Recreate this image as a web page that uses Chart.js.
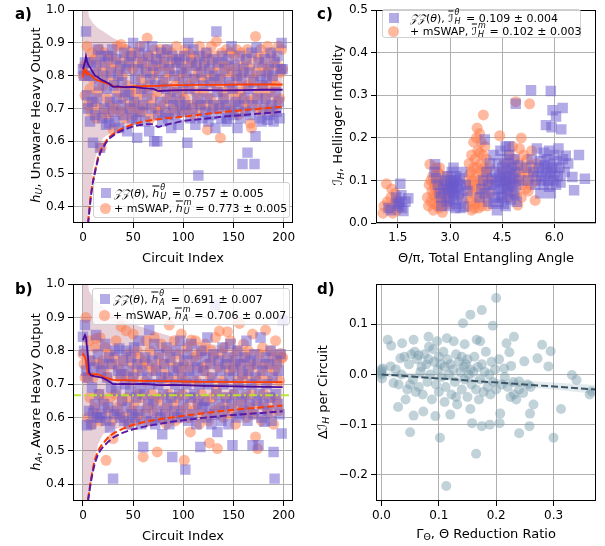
<!DOCTYPE html>
<html>
<head>
<meta charset="utf-8">
<script src="https://cdn.jsdelivr.net/npm/chart.js@4.4.0/dist/chart.umd.min.js"></script>
<style>
body{margin:0;width:605px;height:546px;position:relative;background:#fff;overflow:hidden;font-family:"DejaVu Sans",sans-serif;color:#000}
canvas{position:absolute}
.t{position:absolute;white-space:nowrap;font-size:13px;line-height:1}
.xt{transform:translate(-50%,-50%)}
.yt{transform:translate(-50%,-50%) rotate(-90deg)}
.pl{position:absolute;font-weight:bold;font-size:15px;line-height:1}
.leg{position:absolute;border:1px solid #d0d0d0;border-radius:3px;background:rgba(255,255,255,0.8);font-size:11px;box-sizing:border-box}
.mk{position:absolute;width:10px;height:10px}
.sq{background:rgba(106,90,205,0.5)}
.ci{background:rgba(255,127,80,0.55);border-radius:50%;width:11px;height:11px}
.tx{position:absolute;transform:translateY(-50%);white-space:nowrap;line-height:1}
.ss{position:relative;display:inline-block;width:9px;height:0}
.ss .sp,.ss .sb{position:absolute;left:1px;font-size:8px;line-height:1;font-style:italic}
.ss .sp{top:-13px}
.ss .sb{top:-4px}
.ov{text-decoration:overline}
sub{font-size:0.72em;vertical-align:-0.3em;line-height:0}
</style>
</head>
<body>
<canvas id="ca" width="300" height="270" style="left:0;top:0"></canvas>
<canvas id="cc" width="305" height="270" style="left:300px;top:0"></canvas>
<canvas id="cb" width="300" height="276" style="left:0;top:270px"></canvas>
<canvas id="cd" width="305" height="276" style="left:300px;top:270px"></canvas>

<div class="pl" style="left:15px;top:7px">a)</div>
<div class="pl" style="left:317px;top:7px">c)</div>
<div class="pl" style="left:15px;top:282px">b)</div>
<div class="pl" style="left:317px;top:282px">d)</div>

<div class="t xt" style="left:183px;top:257px">Circuit Index</div>
<div class="t xt" style="left:183px;top:535px">Circuit Index</div>
<div class="t xt" style="left:486px;top:257px">Θ/π, Total Entangling Angle</div>
<div class="t xt" style="left:486px;top:533px">Γ<sub>Θ</sub>, Θ Reduction Ratio</div>
<div class="t yt" style="left:35px;top:115px"><i>h<sub>U</sub></i>, Unaware Heavy Output</div>
<div class="t yt" style="left:35px;top:392px"><i>h<sub>A</sub></i>, Aware Heavy Output</div>
<div class="t yt" style="left:337px;top:115px"><i>ℐ<sub>H</sub></i>, Hellinger Infidelity</div>
<div class="t yt" style="left:322px;top:392px">Δ<i>ℐ<sub>H</sub></i> per Circuit</div>

<div class="leg" style="left:93px;top:182px;width:197px;height:36px">
  <div class="mk sq" style="left:7px;top:5px"></div>
  <div class="tx" style="left:20px;top:10px"><i>𝒵𝒵</i>(<i>θ</i>), <i class="ov">h</i><span class="ss"><span class="sp">θ</span><span class="sb">U</span></span> = 0.757 ± 0.005</div>
  <div class="mk ci" style="left:6px;top:20px"></div>
  <div class="tx" style="left:20px;top:25px">+ mSWAP, <i class="ov">h</i><span class="ss"><span class="sp">m</span><span class="sb">U</span></span> = 0.773 ± 0.005</div>
</div>
<div class="leg" style="left:92px;top:288px;width:198px;height:37px">
  <div class="mk sq" style="left:7px;top:5px"></div>
  <div class="tx" style="left:20px;top:10px"><i>𝒵𝒵</i>(<i>θ</i>), <i class="ov">h</i><span class="ss"><span class="sp">θ</span><span class="sb">A</span></span> = 0.691 ± 0.007</div>
  <div class="mk ci" style="left:6px;top:21px"></div>
  <div class="tx" style="left:20px;top:26px">+ mSWAP, <i class="ov">h</i><span class="ss"><span class="sp">m</span><span class="sb">A</span></span> = 0.706 ± 0.007</div>
</div>
<div class="leg" style="left:382px;top:9px;width:199px;height:29px">
  <div class="mk sq" style="left:6px;top:3px"></div>
  <div class="tx" style="left:27px;top:8px"><i>𝒵𝒵</i>(<i>θ</i>), <i class="ov">ℐ</i><span class="ss"><span class="sp">θ</span><span class="sb">H</span></span> = 0.109 ± 0.004</div>
  <div class="mk ci" style="left:5px;top:16px"></div>
  <div class="tx" style="left:27px;top:21px">+ mSWAP, <i class="ov">ℐ</i><span class="ss"><span class="sp">m</span><span class="sb">H</span></span> = 0.102 ± 0.003</div>
</div>

<script>
// ---- panel a: unaware heavy output per circuit ----
const aZZ = [
  0.82,0.80,0.84,0.935,0.74,0.70,0.80,0.66,0.84,0.72,0.595,0.80,0.68,0.83,0.73,0.88,0.77,0.58,0.86,0.67,
  0.80,0.70,0.84,0.65,0.76,0.86,0.655,0.72,0.81,0.88,0.69,0.77,0.66,0.85,0.73,0.80,0.64,0.83,0.71,0.78,
  0.68,0.87,0.75,0.82,0.63,0.74,0.84,0.70,0.86,0.67,0.90,0.72,0.79,0.665,0.61,0.82,0.87,0.69,0.76,0.84,
  0.71,0.89,0.66,0.81,0.74,0.86,0.63,0.79,0.70,0.89,0.83,0.60,0.77,0.85,0.60,0.68,0.81,0.72,0.87,0.66,
  0.78,0.84,0.69,0.76,0.88,0.67,0.82,0.73,0.64,0.86,0.71,0.80,0.68,0.84,0.75,0.65,0.85,0.72,0.82,0.69,
  0.78,0.86,0.71,0.81,0.595,0.90,0.76,0.67,0.84,0.70,0.88,0.79,0.65,0.83,0.73,0.495,0.86,0.71,0.81,0.67,
  0.77,0.84,0.69,0.87,0.73,0.66,0.82,0.78,0.68,0.85,0.71,0.80,0.64,0.935,0.75,0.84,0.70,0.79,0.67,0.86,
  0.73,0.82,0.71,0.66,0.668,0.85,0.78,0.69,0.89,0.76,0.68,0.83,0.72,0.80,0.64,0.71,0.86,0.67,0.79,0.53,
  0.82,0.73,0.69,0.85,0.565,0.76,0.81,0.68,0.87,0.71,0.78,0.53,0.615,0.885,0.73,0.84,0.67,0.80,0.66,0.77,
  0.70,0.85,0.73,0.79,0.665,0.82,0.68,0.87,0.71,0.80,0.66,0.84,0.75,0.69,0.86,0.72,0.67,0.82,0.90,0.82
];
const aMS = [
  0.80,0.83,0.74,0.80,0.89,0.71,0.84,0.76,0.69,0.87,0.79,0.72,0.85,0.67,0.81,0.75,0.88,0.70,0.58,0.83,
  0.77,0.87,0.68,0.80,0.73,0.85,0.685,0.82,0.71,0.86,0.635,0.78,0.84,0.70,0.89,0.75,0.82,0.69,0.895,0.80,
  0.73,0.85,0.67,0.88,0.77,0.70,0.83,0.75,0.86,0.71,0.82,0.68,0.87,0.76,0.73,0.84,0.70,0.89,0.79,0.69,
  0.85,0.75,0.82,0.71,0.915,0.77,0.86,0.67,0.83,0.73,0.80,0.88,0.70,0.82,0.75,0.85,0.69,0.88,0.77,0.83,
  0.71,0.86,0.79,0.88,0.73,0.83,0.68,0.81,0.87,0.75,0.70,0.85,0.77,0.89,0.72,0.84,0.79,0.69,0.86,0.75,
  0.81,0.73,0.88,0.70,0.83,0.77,0.87,0.71,0.85,0.79,0.68,0.86,0.75,0.83,0.72,0.81,0.89,0.70,0.79,0.86,
  0.75,0.83,0.71,0.87,0.635,0.79,0.85,0.73,0.89,0.81,0.70,0.86,0.77,0.905,0.83,0.71,0.79,0.61,0.87,0.75,
  0.84,0.73,0.81,0.88,0.70,0.83,0.77,0.87,0.69,0.81,0.75,0.86,0.72,0.88,0.79,0.68,0.83,0.75,0.87,0.73,
  0.81,0.70,0.85,0.77,0.88,0.72,0.83,0.655,0.64,0.79,0.86,0.73,0.92,0.81,0.70,0.85,0.75,0.88,0.69,0.83,
  0.77,0.86,0.73,0.81,0.89,0.70,0.83,0.75,0.87,0.79,0.69,0.85,0.77,0.72,0.83,0.89,0.73,0.81,0.88,0.82
];
// running means, read at these circuit indices
const meanX   = [0,1,2,3,4,5,6,8,10,12,15,18,20,25,30,35,40,50,60,70,75,80,90,100,120,140,160,180,199];
const aMeanZZ = [0.82,0.83,0.84,0.86,0.845,0.835,0.83,0.82,0.81,0.80,0.795,0.788,0.785,0.778,0.766,0.767,0.765,0.766,0.762,0.76,0.753,0.754,0.755,0.756,0.756,0.755,0.756,0.757,0.757];
const aMeanMS = [0.795,0.825,0.81,0.815,0.805,0.81,0.805,0.80,0.795,0.79,0.785,0.783,0.78,0.775,0.768,0.765,0.765,0.767,0.768,0.769,0.769,0.77,0.771,0.771,0.772,0.772,0.773,0.773,0.773];
// lower bounds (dashed)
const boundX   = [5,6,7,8,10,12,15,18,20,25,30,35,40,50,60,70,75,80,90,100,120,140,160,180,199];
const aBoundMS = [0.35,0.38,0.41,0.44,0.48,0.51,0.55,0.575,0.585,0.61,0.622,0.632,0.64,0.652,0.66,0.665,0.667,0.669,0.672,0.675,0.682,0.689,0.695,0.70,0.705];
const aBoundZZ = [0.345,0.375,0.405,0.435,0.475,0.505,0.545,0.57,0.58,0.605,0.617,0.627,0.634,0.645,0.651,0.652,0.643,0.648,0.655,0.662,0.668,0.675,0.68,0.685,0.69];
// shaded band
const bandX  = [0,3,6,10,15,20,30,40,50,75,100,150,199];
const aBandHi = [1.1,1.05,0.98,0.96,0.945,0.936,0.915,0.90,0.885,0.865,0.855,0.84,0.83];
const aBandLo = [0.3,0.3,0.4,0.52,0.58,0.61,0.63,0.645,0.655,0.67,0.68,0.69,0.70];

// ---- panel b: aware heavy output per circuit ----
const bZZ = [
  0.842,0.80,0.877,0.74,0.577,0.72,0.62,0.77,0.58,0.69,0.612,0.75,0.64,0.847,0.60,0.79,0.67,0.60,0.74,0.61,
  0.76,0.64,0.82,0.59,0.72,0.63,0.78,0.57,0.69,0.76,0.417,0.61,0.80,0.68,0.62,0.74,0.807,0.60,0.73,0.65,
  0.77,0.59,0.70,0.80,0.63,0.74,0.58,0.68,0.78,0.61,0.72,0.81,0.60,0.66,0.76,0.62,0.83,0.69,0.58,0.74,
  0.512,0.67,0.78,0.61,0.72,0.64,0.862,0.70,0.59,0.77,0.65,0.82,0.58,0.74,0.62,0.70,0.79,0.60,0.72,0.55,
  0.67,0.76,0.61,0.81,0.64,0.72,0.58,0.78,0.66,0.482,0.74,0.62,0.70,0.80,0.60,0.75,0.67,0.83,0.61,0.72,
  0.64,0.77,0.444,0.70,0.79,0.59,0.74,0.66,0.82,0.61,0.72,0.67,0.77,0.58,0.75,0.64,0.70,0.512,0.80,0.63,
  0.74,0.65,0.78,0.60,0.84,0.70,0.63,0.76,0.58,0.72,0.79,0.61,0.937,0.67,0.557,0.77,0.64,0.74,0.59,0.81,
  0.70,0.62,0.76,0.66,0.78,0.58,0.72,0.82,0.64,0.517,0.74,0.67,0.77,0.60,0.80,0.70,0.61,0.76,0.65,0.73,
  0.62,0.78,0.67,0.83,0.59,0.74,0.64,0.77,0.70,0.517,0.61,0.79,0.72,0.65,0.76,0.517,0.67,0.84,0.60,0.74,
  0.64,0.587,0.78,0.70,0.62,0.76,0.66,0.80,0.59,0.72,0.497,0.417,0.67,0.77,0.64,0.74,0.61,0.79,0.552,0.892
];
const bMS = [
  0.79,0.76,0.72,0.90,0.72,0.60,0.83,0.66,0.77,0.58,0.72,0.63,0.81,0.837,0.61,0.76,0.67,0.84,0.59,0.77,
  0.65,0.74,0.81,0.472,0.72,0.62,0.79,0.66,0.76,0.59,0.537,0.78,0.67,0.83,0.63,0.75,0.61,0.72,0.872,0.65,
  0.77,0.60,0.73,0.86,0.66,0.58,0.79,0.71,0.62,0.76,0.85,0.64,0.73,0.59,0.80,0.67,0.78,0.61,0.75,0.66,
  0.482,0.77,0.71,0.83,0.63,0.76,0.59,0.80,0.67,0.74,0.62,0.84,0.65,0.75,0.497,0.78,0.66,0.60,0.82,0.71,
  0.76,0.63,0.73,0.58,0.80,0.67,0.877,0.61,0.77,0.71,0.64,0.83,0.59,0.75,0.66,0.79,0.62,0.73,0.85,0.67,
  0.76,0.472,0.71,0.63,0.81,0.60,0.75,0.557,0.832,0.66,0.78,0.62,0.83,0.71,0.64,0.79,0.58,0.75,0.67,0.80,
  0.61,0.74,0.82,0.65,0.76,0.59,0.524,0.72,0.80,0.66,0.78,0.62,0.84,0.68,0.507,0.75,0.859,0.63,0.79,0.71,
  0.60,0.81,0.66,0.76,0.857,0.63,0.74,0.83,0.61,0.78,0.67,0.75,0.58,0.80,0.71,0.64,0.882,0.76,0.62,0.73,
  0.82,0.66,0.78,0.60,0.72,0.80,0.63,0.75,0.67,0.85,0.61,0.76,0.542,0.71,0.507,0.64,0.79,0.73,0.59,0.81,
  0.67,0.76,0.862,0.63,0.75,0.71,0.61,0.80,0.66,0.78,0.58,0.74,0.83,0.65,0.76,0.62,0.71,0.792,0.78,0.78
];
const bMeanZZ = [0.832,0.84,0.847,0.84,0.81,0.78,0.735,0.726,0.725,0.723,0.722,0.72,0.718,0.71,0.70,0.70,0.701,0.70,0.701,0.699,0.697,0.697,0.698,0.697,0.695,0.694,0.693,0.692,0.691];
const bMeanMS = [0.793,0.785,0.78,0.77,0.745,0.73,0.728,0.73,0.729,0.73,0.729,0.726,0.722,0.717,0.713,0.712,0.712,0.711,0.71,0.71,0.709,0.709,0.709,0.708,0.707,0.707,0.706,0.706,0.706];
const bBoundX  = [5,6,7,8,10,12,15,18,20,25,30,35,40,50,60,70,80,90,100,120,140,160,180,199];
const bBoundZZ = [0.35,0.37,0.39,0.41,0.44,0.465,0.49,0.505,0.512,0.527,0.54,0.548,0.555,0.565,0.572,0.578,0.583,0.588,0.592,0.599,0.605,0.61,0.614,0.619];
const bBoundMS = [0.355,0.375,0.395,0.415,0.45,0.475,0.50,0.515,0.522,0.54,0.552,0.56,0.567,0.578,0.586,0.592,0.597,0.601,0.605,0.613,0.62,0.626,0.631,0.636];
const bBandHi = [1.1,1.05,0.98,0.96,0.945,0.932,0.91,0.895,0.88,0.855,0.832,0.81,0.797];
const bBandLo = [0.3,0.3,0.35,0.45,0.52,0.55,0.565,0.57,0.575,0.58,0.583,0.598,0.613];
const thresholdX = [-10, 209];
const thresholdY = [0.667, 0.667];

// ---- panel c: [theta/pi, Hellinger infidelity] ----
const cZZ = [
  [1.23,0.035],[1.3,0.03],[1.57,0.092],[1.5,0.045],[1.55,0.05],[1.62,0.035],[1.66,0.028],[1.72,0.05],[1.8,0.058],[1.45,0.06],[1.6,0.065],[1.53,0.04],
  [2.55,0.12],[2.57,0.138],[2.6,0.105],[2.65,0.09],[2.7,0.07],[2.75,0.06],[2.8,0.08],[2.85,0.1],[2.9,0.085],[2.92,0.11],[2.95,0.075],[2.98,0.06],
  [3.0,0.09],[3.02,0.1],[3.05,0.08],[3.05,0.12],[3.08,0.07],[3.1,0.095],[3.1,0.055],[3.12,0.085],[3.15,0.1],[3.15,0.065],[3.18,0.11],[3.2,0.08],
  [3.2,0.045],[3.22,0.095],[3.25,0.07],[3.28,0.105],[3.3,0.085],[3.3,0.035],[3.35,0.06],[3.4,0.038],[3.45,0.09],[3.5,0.075],[3.0,0.04],[2.9,0.05],
  [3.1,0.13],[3.35,0.12],[2.75,0.04],[3.15,0.035],
  [3.85,0.06],[3.9,0.08],[3.95,0.1],[4.0,0.196],[4.0,0.07],[4.05,0.12],[4.1,0.09],[4.1,0.05],[4.15,0.14],[4.2,0.105],[4.2,0.075],[4.25,0.16],
  [4.28,0.09],[4.3,0.12],[4.3,0.06],[4.35,0.03],[4.35,0.1],[4.38,0.14],[4.4,0.08],[4.42,0.115],[4.45,0.17],[4.45,0.095],[4.48,0.065],[4.5,0.13],
  [4.5,0.105],[4.52,0.08],[4.55,0.15],[4.55,0.045],[4.58,0.11],[4.6,0.18],[4.6,0.09],[4.62,0.125],[4.65,0.07],[4.65,0.1],[4.68,0.14],[4.7,0.085],
  [4.7,0.16],[4.72,0.115],[4.75,0.055],[4.75,0.095],[4.78,0.13],[4.8,0.075],[4.82,0.105],[4.85,0.15],[4.85,0.065],[4.88,0.12],[4.9,0.09],[4.92,0.05],
  [4.95,0.135],[4.98,0.1],[4.89,0.28],[4.4,0.05],[4.6,0.04],[4.25,0.045],[4.7,0.18],[4.5,0.06],
  [5.2,0.13],[5.25,0.1],[5.33,0.312],[5.35,0.15],[5.4,0.12],[5.45,0.09],[5.5,0.175],[5.5,0.11],[5.55,0.13],[5.6,0.07],[5.6,0.145],[5.62,0.1],
  [5.65,0.12],[5.7,0.165],[5.7,0.09],[5.72,0.135],[5.75,0.11],[5.76,0.23],[5.78,0.15],[5.8,0.125],[5.82,0.1],[5.85,0.17],[5.85,0.085],[5.88,0.14],
  [5.9,0.31],[5.9,0.07],[5.9,0.115],[5.92,0.225],[5.95,0.265],[5.95,0.13],[5.98,0.1],[6.0,0.16],[6.02,0.12],[6.05,0.25],[6.05,0.09],[6.08,0.145],
  [6.1,0.11],[6.12,0.175],[6.15,0.13],[6.18,0.095],[6.2,0.22],[6.24,0.27],[6.25,0.15],[6.33,0.158],[6.52,0.108],[6.57,0.077],[6.71,0.16],[6.88,0.104],
  [6.3,0.12],[6.4,0.14]
];
const cMS = [
  [1.07,0.023],[1.1,0.04],[1.17,0.092],[1.2,0.05],[1.25,0.035],[1.3,0.06],[1.35,0.023],[1.38,0.045],[1.42,0.07],[1.45,0.055],[1.48,0.03],[1.32,0.08],
  [2.35,0.06],[2.4,0.09],[2.42,0.138],[2.45,0.05],[2.48,0.075],[2.5,0.11],[2.52,0.065],[2.55,0.095],[2.55,0.045],[2.58,0.08],[2.6,0.13],[2.6,0.06],
  [2.62,0.1],[2.65,0.07],[2.65,0.04],[2.68,0.09],[2.7,0.115],[2.7,0.055],[2.72,0.08],[2.75,0.065],[2.75,0.1],[2.78,0.025],[2.8,0.085],[2.82,0.05],
  [2.85,0.07],[2.88,0.095],[2.9,0.06],[2.92,0.08],[2.95,0.045],[3.0,0.07],[3.05,0.09],[2.52,0.03],[2.68,0.035],[2.6,0.12],[2.45,0.1],[2.38,0.04],
  [2.9,0.11],[2.7,0.13],[2.56,0.09],[2.8,0.04],
  [3.45,0.06],[3.5,0.1],[3.52,0.04],[3.55,0.14],[3.58,0.08],[3.6,0.12],[3.6,0.05],[3.62,0.16],[3.65,0.1],[3.65,0.07],[3.68,0.13],[3.7,0.09],
  [3.7,0.035],[3.72,0.15],[3.75,0.11],[3.75,0.06],[3.78,0.223],[3.78,0.13],[3.8,0.08],[3.8,0.17],[3.82,0.1],[3.85,0.21],[3.85,0.05],[3.88,0.14],
  [3.88,0.09],[3.9,0.12],[3.9,0.19],[3.92,0.07],[3.95,0.16],[3.95,0.1],[3.96,0.254],[3.98,0.13],[4.0,0.085],[4.0,0.18],[4.02,0.06],[4.05,0.11],
  [4.05,0.15],[4.08,0.04],[4.1,0.095],[4.12,0.13],[4.15,0.07],[4.18,0.1],[3.55,0.09],[3.62,0.03],[3.68,0.19],[3.72,0.045],[3.85,0.165],[3.92,0.04],
  [4.0,0.12],[3.58,0.115],[3.76,0.2],[3.82,0.035],
  [4.43,0.205],[4.5,0.12],[4.55,0.1],[4.6,0.14],[4.65,0.08],[4.7,0.16],[4.75,0.11],[4.8,0.13],[4.82,0.09],[4.85,0.15],[4.89,0.285],[4.9,0.12],
  [4.92,0.07],[4.95,0.042],[4.95,0.1],[5.0,0.175],[5.0,0.14],[5.02,0.11],[5.05,0.2],[5.08,0.09],[5.1,0.13],[5.12,0.16],[5.15,0.12],[5.18,0.08],
  [5.2,0.1],[5.22,0.15],[5.25,0.115],[5.29,0.28],[5.3,0.135],[5.32,0.09],[5.35,0.17],[5.4,0.12],[5.45,0.053],[5.48,0.1],[5.5,0.14],[4.7,0.06],
  [4.6,0.1],[5.05,0.06],[4.8,0.18],[5.25,0.075]
];

// ---- panel d: [reduction ratio, change in infidelity] ----
const dPts = [
  [0.0,0.009],[0.0,0.0],[0.002,0.012],[0.001,-0.008],[0.0,0.005],[0.011,0.069],[0.017,0.057],[0.016,0.016],[0.021,-0.017],[0.029,-0.065],
  [0.033,0.032],[0.036,0.062],[0.042,-0.05],[0.05,-0.115],[0.056,0.069],[0.056,-0.082],[0.073,-0.074],[0.082,0.075],[0.094,-0.083],[0.102,-0.126],
  [0.097,0.066],[0.114,0.072],[0.126,0.066],[0.113,-0.222],[0.12,-0.08],[0.142,0.102],[0.155,0.119],[0.175,0.128],[0.2,0.152],[0.194,0.097],
  [0.166,0.069],[0.172,0.066],[0.165,-0.158],[0.155,-0.069],[0.158,-0.097],[0.175,-0.103],[0.189,-0.1],[0.206,-0.097],[0.207,-0.078],[0.218,0.062],
  [0.231,0.075],[0.223,0.044],[0.226,0.017],[0.214,0.012],[0.24,-0.117],[0.249,0.026],[0.24,-0.014],[0.247,-0.037],[0.231,-0.04],[0.258,-0.103],
  [0.259,-0.078],[0.265,-0.06],[0.272,0.032],[0.28,0.059],[0.291,0.016],[0.295,0.046],[0.3,-0.126],[0.313,-0.069],[0.332,-0.001],[0.34,-0.011],
  [0.363,-0.04],[0.366,-0.034],
  [0.025,0.01],[0.03,-0.02],[0.035,0.0],[0.04,0.035],[0.045,-0.03],[0.048,0.02],[0.052,0.04],[0.055,-0.01],[0.058,0.045],[0.06,-0.035],
  [0.062,0.03],[0.065,-0.025],[0.068,0.005],[0.07,0.015],[0.072,-0.04],[0.075,0.04],[0.078,0.02],[0.08,-0.015],[0.082,0.03],[0.085,0.0],
  [0.088,-0.05],[0.09,0.05],[0.092,0.025],[0.095,-0.02],[0.098,0.01],[0.1,0.035],[0.1,-0.035],[0.103,0.02],[0.105,-0.005],[0.108,0.045],
  [0.11,0.015],[0.112,-0.025],[0.115,0.03],[0.118,0.0],[0.12,0.02],[0.122,-0.04],[0.125,0.01],[0.128,-0.015],[0.13,0.04],[0.132,-0.06],
  [0.135,0.025],[0.138,0.005],[0.14,0.035],[0.14,-0.03],[0.143,0.015],[0.145,-0.01],[0.147,0.02],[0.15,-0.045],[0.15,0.03],[0.152,0.0],
  [0.155,0.01],[0.157,-0.02],[0.16,0.005],[0.162,0.035],[0.165,-0.03],[0.168,0.015],[0.17,-0.05],[0.172,-0.01],[0.175,0.02],[0.178,-0.035],
  [0.18,0.005],[0.182,0.045],[0.185,-0.025],[0.188,0.0],[0.19,-0.04],[0.192,0.025],[0.195,-0.015],[0.198,0.01],[0.2,-0.03],[0.205,0.03],
  [0.21,-0.02],[0.215,-0.005],[0.22,-0.025],[0.225,-0.045],[0.23,-0.015],[0.235,-0.05],[0.24,-0.03],[0.255,-0.02],[0.26,-0.025],[0.145,0.06],
  [0.05,-0.02],[0.065,0.038],[0.083,0.055],[0.11,-0.055],[0.13,-0.045]
];
const dFitX  = [0.0, 0.374];
const dFitY  = [0.0, -0.03];
const dCiX   = [0.0, 0.1, 0.2, 0.3, 0.374];
const dCiHi  = [0.005, 0.002, -0.009, -0.016, -0.021];
const dCiLo  = [-0.005, -0.010, -0.021, -0.030, -0.039];

// tick labels
const idxTicks = [0, 50, 100, 150, 200];
const hTicks = [0.4, 0.5, 0.6, 0.7, 0.8, 0.9, 1.0];
const cXTicks = [1.5, 3.0, 4.5, 6.0];
const cYTicks = [0.0, 0.1, 0.2, 0.3, 0.4, 0.5];
const dXTicks = [0.0, 0.1, 0.2, 0.3];
const dYTicks = [-0.2, -0.1, 0.0, 0.1];

const PURPLE = 'rgba(106,90,205,0.5)';
const CORAL = 'rgba(255,127,80,0.55)';
const SQ_R = 7.4;   // square side ~10.5px
const CI_R = 5.5;   // circle diameter ~11px

function xy(xs, ys) { return xs.map((x, i) => ({x: x, y: ys[i]})); }
function pairs(a) { return a.map(p => ({x: p[0], y: p[1]})); }
function one(v) { return v.toFixed(1).replace('-', '\u2212'); }

// matplotlib style box around the axes
const frame = {
  id: 'frame',
  afterDraw(chart) {
    const a = chart.chartArea, ctx = chart.ctx;
    ctx.save();
    ctx.strokeStyle = '#000';
    ctx.lineWidth = 1;
    ctx.strokeRect(Math.round(a.left) + 0.5, Math.round(a.top) + 0.5,
                   Math.round(a.right - a.left) - 1, Math.round(a.bottom - a.top) - 1);
    ctx.restore();
  }
};

function axis(min, max, ticks, size, fmt, isX) {
  return {
    type: 'linear', min: min, max: max,
    afterBuildTicks: s => { s.ticks = ticks.map(v => ({value: v})); },
    afterFit: s => { if (isX) s.height = size; else s.width = size; },
    grid: {color: '#b0b0b0', lineWidth: 1, drawTicks: true, tickLength: 5, tickColor: '#000', tickWidth: 1},
    border: {display: false},
    ticks: {color: '#000', font: {family: 'DejaVu Sans', size: 12}, padding: 3,
            maxRotation: 0, autoSkip: false, callback: v => fmt(v)}
  };
}

function scatter(data, square, color, r) {
  return {type: 'scatter', data: data, showLine: false, pointStyle: square ? 'rect' : 'circle',
          pointRadius: r, pointHoverRadius: r, pointBackgroundColor: color, pointBorderWidth: 0,
          pointBorderColor: 'rgba(0,0,0,0)', order: 2};
}
function line(data, color, w, dash) {
  return {type: 'line', data: data, showLine: true, borderColor: color, borderWidth: w,
          borderDash: dash || [], pointRadius: 0, fill: false, tension: 0, order: 0};
}
function bandPair(hi, lo, color) {
  return [
    {type: 'line', data: hi, showLine: true, borderColor: 'rgba(0,0,0,0)', borderWidth: 1, pointRadius: 0,
     tension: 0, fill: '+1', backgroundColor: color, order: 3},
    {type: 'line', data: lo, showLine: true, borderColor: 'rgba(0,0,0,0)', borderWidth: 1, pointRadius: 0,
     tension: 0, fill: false, order: 3}
  ];
}

function make(id, datasets, xs, ys, pad) {
  new Chart(document.getElementById(id), {
    type: 'scatter',
    data: {datasets: datasets},
    options: {
      responsive: false, animation: false, events: [],
      layout: {padding: pad},
      plugins: {legend: {display: false}, tooltip: {enabled: false}},
      scales: {x: xs, y: ys}
    },
    plugins: [frame]
  });
}

const idx = aZZ.map((v, i) => i);
const BAND = 'rgba(140,20,60,0.2)';

make('ca', [
  line(xy(meanX, aMeanZZ), '#4b0a9a', 1.8),
  line(xy(meanX, aMeanMS), '#ff3c00', 1.8),
  line(xy(boundX, aBoundZZ), '#5a1aa6', 2, [7, 3]),
  line(xy(boundX, aBoundMS), '#ff3c00', 2, [7, 3]),
  scatter(xy(idx, aZZ), true, PURPLE, SQ_R),
  scatter(xy(idx, aMS), false, CORAL, CI_R),
  ...bandPair(xy(bandX, aBandHi), xy(bandX, aBandLo), BAND)
], axis(-9.95, 208.95, idxTicks, 47, v => String(v), true),
   axis(0.35, 1.0, hTicks, 73, one, false),
   {top: 7, right: 7, left: 0, bottom: 0});

make('cb', [
  line(xy(thresholdX, thresholdY), 'rgba(185,230,40,0.95)', 2, [8, 3, 2, 3]),
  line(xy(meanX, bMeanZZ), '#4b0a9a', 1.8),
  line(xy(meanX, bMeanMS), '#ff3c00', 1.8),
  line(xy(bBoundX, bBoundZZ), '#5a1aa6', 2, [7, 3]),
  line(xy(bBoundX, bBoundMS), '#ff3c00', 2, [7, 3]),
  scatter(xy(idx, bZZ), true, PURPLE, SQ_R),
  scatter(xy(idx, bMS), false, CORAL, CI_R),
  ...bandPair(xy(bandX, bBandHi), xy(bandX, bBandLo), BAND)
], axis(-9.95, 208.95, idxTicks, 45, v => String(v), true),
   axis(0.35, 1.0, hTicks, 73, one, false),
   {top: 14, right: 7, left: 0, bottom: 0});

make('cc', [
  scatter(pairs(cZZ), true, PURPLE, SQ_R),
  scatter(pairs(cMS), false, CORAL, CI_R)
], axis(0.87, 7.2, cXTicks, 47, one, true),
   axis(0.0, 0.5, cYTicks, 76, one, false),
   {top: 7, right: 9, left: 0, bottom: 0});

make('cd', [
  line(xy(dFitX, dFitY), '#3c5566', 2, [7, 3]),
  scatter(pairs(dPts), false, 'rgba(120,155,170,0.45)', 5),
  ...bandPair(xy(dCiX, dCiHi), xy(dCiX, dCiLo), 'rgba(120,155,170,0.2)')
], axis(-0.0095, 0.374, dXTicks, 45, one, true),
   axis(-0.252, 0.18, dYTicks, 76, one, false),
   {top: 14, right: 9, left: 0, bottom: 0});
</script>
</body>
</html>
